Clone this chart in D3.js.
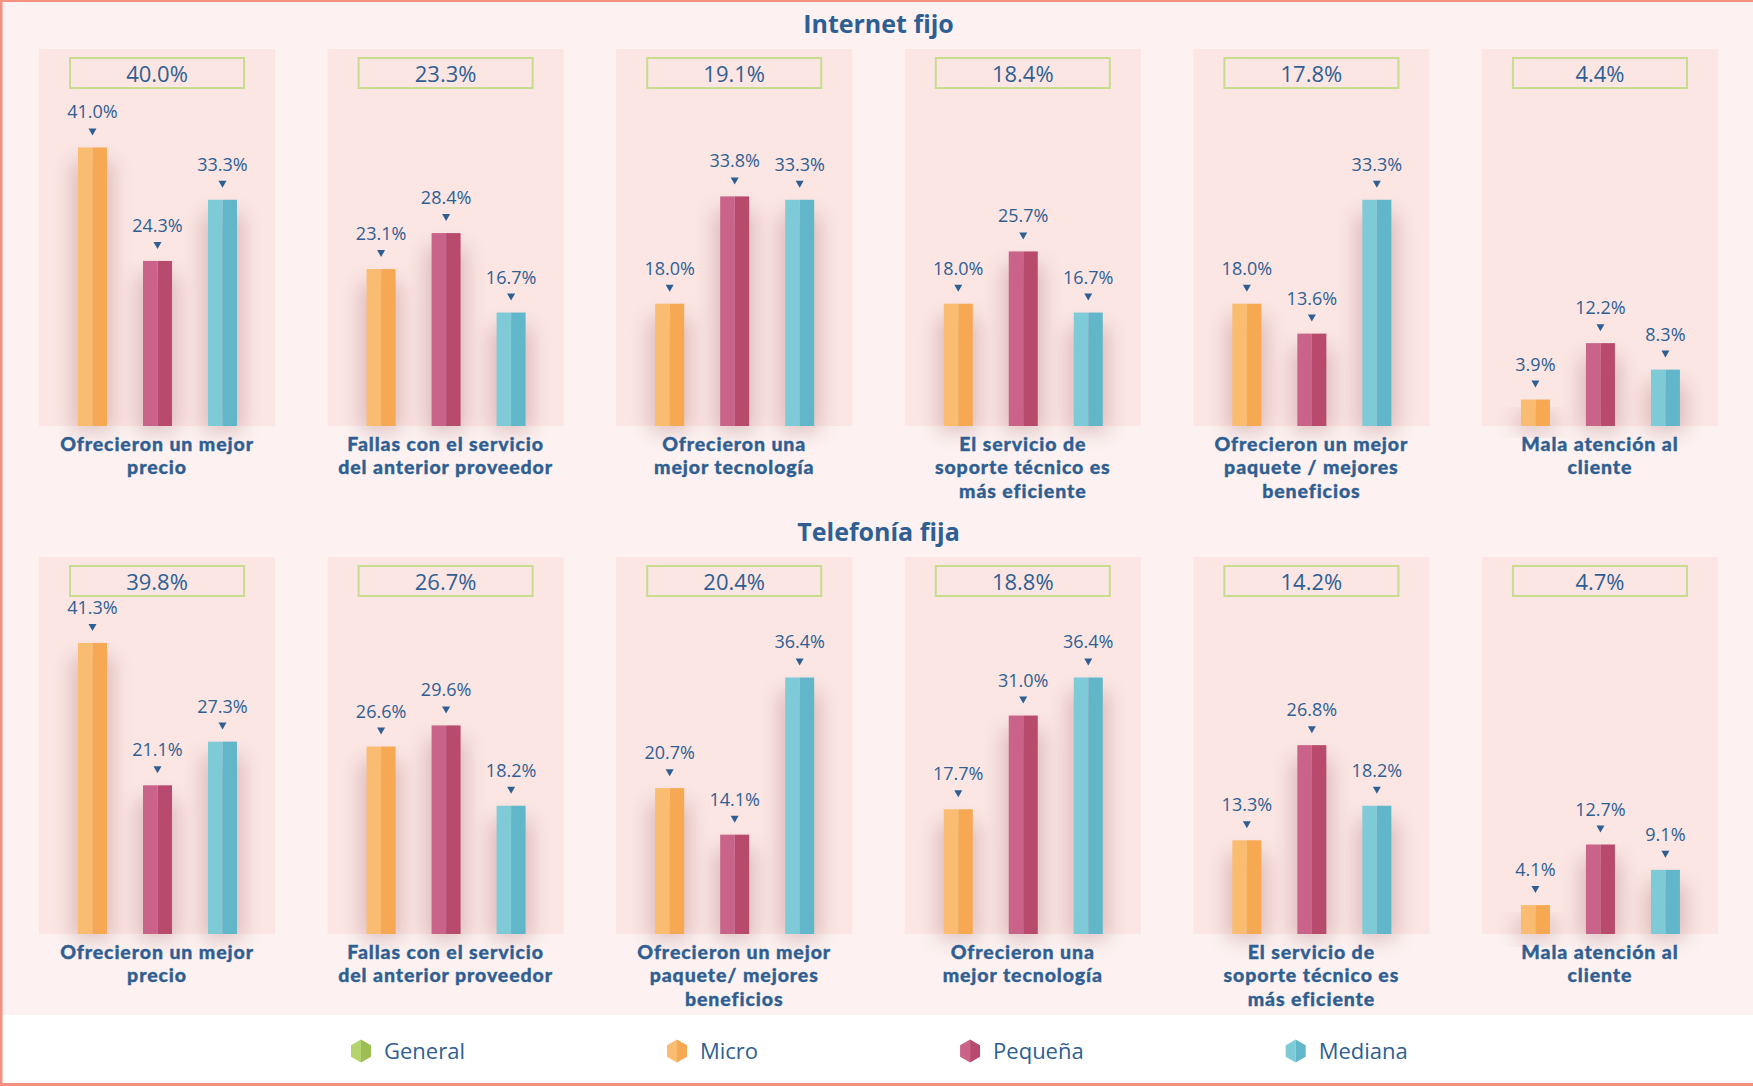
<!DOCTYPE html>
<html>
<head>
<meta charset="utf-8">
<script src="https://cdn.jsdelivr.net/npm/d3@7"></script>
<style>
  html, body { margin: 0; padding: 0; background: #ffffff; }
  svg { display: block; font-family: "Open Sans", "Noto Sans", sans-serif; }
</style>
</head>
<body>
<svg id="chart" width="1753" height="1086"></svg>
<script>
// ---- Data -------------------------------------------------------------
const sections = ["Internet fijo", "Telefonía fija"];
const series = ["Micro", "Pequeña", "Mediana"];
const legendItems = ["General", "Micro", "Pequeña", "Mediana"];

// Internet fijo
const internetReasons = [
  ["Ofrecieron un mejor", "precio"],
  ["Fallas con el servicio", "del anterior proveedor"],
  ["Ofrecieron una", "mejor tecnología"],
  ["El servicio de", "soporte técnico es", "más eficiente"],
  ["Ofrecieron un mejor", "paquete / mejores", "beneficios"],
  ["Mala atención al", "cliente"]
];
const internetGeneral = [40.0, 23.3, 19.1, 18.4, 17.8, 4.4];
const internetMicro   = [41.0, 23.1, 18.0, 18.0, 18.0, 3.9];
const internetPequena = [24.3, 28.4, 33.8, 25.7, 13.6, 12.2];
const internetMediana = [33.3, 16.7, 33.3, 16.7, 33.3, 8.3];

// Telefonía fija
const telefoniaReasons = [
  ["Ofrecieron un mejor", "precio"],
  ["Fallas con el servicio", "del anterior proveedor"],
  ["Ofrecieron un mejor", "paquete/ mejores", "beneficios"],
  ["Ofrecieron una", "mejor tecnología"],
  ["El servicio de", "soporte técnico es", "más eficiente"],
  ["Mala atención al", "cliente"]
];
const telefoniaGeneral = [39.8, 26.7, 20.4, 18.8, 14.2, 4.7];
const telefoniaMicro   = [41.3, 26.6, 20.7, 17.7, 13.3, 4.1];
const telefoniaPequena = [21.1, 29.6, 14.1, 31.0, 26.8, 12.7];
const telefoniaMediana = [27.3, 18.2, 36.4, 36.4, 18.2, 9.1];

// ---- Styling ----------------------------------------------------------
const textColor = "#2f5f92";
const colors = {
  General: ["#b5d36e", "#9cbe53"],
  Micro:   ["#f9bc70", "#f6a853"],
  "Pequeña": ["#c96389", "#b84a6e"],
  Mediana: ["#7fcad7", "#62b6ca"]
};
const fmt = v => d3.format(".1f")(v) + "%";

const rows = [
  { title: sections[0], reasons: internetReasons, general: internetGeneral,
    values: [internetMicro, internetPequena, internetMediana], top: 49, yMax: 55.5 },
  { title: sections[1], reasons: telefoniaReasons, general: telefoniaGeneral,
    values: [telefoniaMicro, telefoniaPequena, telefoniaMediana], top: 557, yMax: 53.5 }
];

const W = 1753, H = 1086;
const panelH = 377;
const barW = 29;

const svg = d3.select("#chart");

// soft haze behind bars
const defs = svg.append("defs");
defs.append("filter")
  .attr("id", "haze")
  .attr("x", "-150%").attr("y", "-30%")
  .attr("width", "400%").attr("height", "160%")
  .append("feGaussianBlur").attr("stdDeviation", 10);

// background + frame
svg.append("rect").attr("x", 0).attr("y", 0).attr("width", W).attr("height", H).attr("fill", "#ffffff");
svg.append("rect").attr("x", 0).attr("y", 0).attr("width", W).attr("height", 1015).attr("fill", "#fdf2f1");
svg.append("rect").attr("x", 0).attr("y", 0).attr("width", W).attr("height", 2).attr("fill", "#f2917f");
svg.append("rect").attr("x", 0).attr("y", 0).attr("width", 2.5).attr("height", H).attr("fill", "#f2917f");
svg.append("rect").attr("x", 0).attr("y", H - 3).attr("width", W).attr("height", 3).attr("fill", "#f2917f");

const panelX = d3.scaleBand()
  .domain(d3.range(6))
  .range([39, 1718])
  .paddingInner(0.182)
  .paddingOuter(0);

const barX = d3.scalePoint()
  .domain(series)
  .range([53.5, 183.5]);

rows.forEach(row => {
  const y = d3.scaleLinear().domain([0, row.yMax]).range([row.top + panelH, row.top]);
  const bottom = row.top + panelH;
  const centerX = (panelX.range()[0] + panelX.range()[1]) / 2;

  svg.append("text")
    .attr("x", centerX)
    .attr("y", row.top - 16)
    .attr("text-anchor", "middle")
    .attr("font-size", 25)
    .attr("font-weight", 700)
    .attr("fill", textColor)
    .text(row.title);

  const panels = svg.append("g").selectAll("g.panel")
    .data(d3.range(6))
    .join("g")
    .attr("class", "panel")
    .attr("transform", i => `translate(${panelX(i)},0)`);

  panels.append("rect")
    .attr("x", 0).attr("y", row.top)
    .attr("width", panelX.bandwidth()).attr("height", panelH)
    .attr("fill", "#fbe6e4");

  // general value box
  panels.append("rect")
    .attr("x", 31).attr("y", row.top + 9)
    .attr("width", panelX.bandwidth() - 62).attr("height", 30)
    .attr("fill", "none")
    .attr("stroke", "#c8dc8e")
    .attr("stroke-width", 2);
  panels.append("text")
    .attr("x", panelX.bandwidth() / 2)
    .attr("y", row.top + 33)
    .attr("text-anchor", "middle")
    .attr("font-size", 22)
    .attr("fill", textColor)
    .text(i => fmt(row.general[i]));

  // bars
  panels.each(function(i) {
    const g = d3.select(this);
    series.forEach((s, k) => {
      const v = row.values[k][i];
      const cx = barX(s);
      const top = y(v);
      const h = bottom - top;

      g.append("rect")
        .attr("x", cx - barW / 2 - 6)
        .attr("y", top + 14)
        .attr("width", barW + 12)
        .attr("height", Math.max(0, h - 8))
        .attr("fill", "#9a6262")
        .attr("opacity", 0.32)
        .attr("filter", "url(#haze)");

      g.append("rect")
        .attr("x", cx - barW / 2).attr("y", top)
        .attr("width", barW / 2).attr("height", h)
        .attr("fill", colors[s][0]);
      g.append("rect")
        .attr("x", cx).attr("y", top)
        .attr("width", barW / 2).attr("height", h)
        .attr("fill", colors[s][1]);

      g.append("path")
        .attr("d", `M${cx - 4},${top - 19}L${cx + 4},${top - 19}L${cx},${top - 12}Z`)
        .attr("fill", textColor);
      g.append("text")
        .attr("x", cx)
        .attr("y", top - 29)
        .attr("text-anchor", "middle")
        .attr("font-size", 18)
        .attr("fill", textColor)
        .text(fmt(v));
    });
  });

  // category labels, one text per line
  panels.each(function(i) {
    d3.select(this).selectAll("text.reason")
      .data(row.reasons[i])
      .join("text")
      .attr("class", "reason")
      .attr("x", panelX.bandwidth() / 2)
      .attr("y", (d, j) => bottom + 25 + j * 23.4)
      .attr("text-anchor", "middle")
      .attr("font-family", "Lato, 'Open Sans', sans-serif")
      .attr("font-size", 19.5)
      .attr("font-weight", 900)
      .attr("letter-spacing", 0.9)
      .attr("stroke", textColor)
      .attr("stroke-width", 0.35)
      .attr("fill", textColor)
      .text(d => d);
  });
});

// legend
const legend = svg.append("g");
let lx = 361;
const ly = 1051;
legendItems.forEach(name => {
  const g = legend.append("g").attr("transform", `translate(${lx},${ly})`);
  g.append("path")
    .attr("d", "M0,-11.5L-10,-5.75L-10,5.75L0,11.5Z")
    .attr("fill", colors[name][0]);
  g.append("path")
    .attr("d", "M0,-11.5L10,-5.75L10,5.75L0,11.5Z")
    .attr("fill", colors[name][1]);
  const t = g.append("text")
    .attr("x", 23)
    .attr("y", 7.5)
    .attr("font-size", 22)
    .attr("fill", textColor)
    .text(name);
  const w = t.node().getComputedTextLength();
  lx = lx + 23 + w + 212;
});
</script>
</body>
</html>
